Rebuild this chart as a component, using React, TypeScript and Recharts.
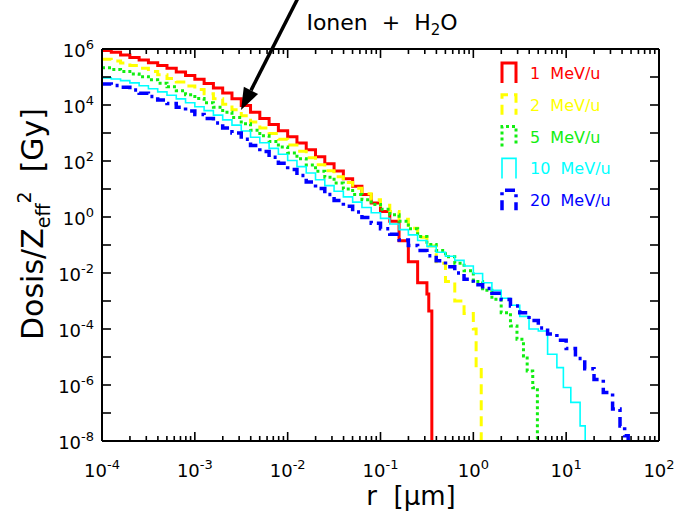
import React from 'react';
import { LineChart, Line, XAxis, YAxis } from 'recharts';

// log10 of r [µm] and log10 of dose/Zeff² [Gy] for each energy
const redLogR = [-4.0, -3.9, -3.8, -3.7, -3.6, -3.5, -3.4, -3.3, -3.2, -3.1, -3.0, -2.9, -2.8, -2.7, -2.6, -2.5, -2.4, -2.3, -2.2, -2.1, -2.0, -1.9, -1.8, -1.7, -1.6, -1.5, -1.4, -1.3, -1.2, -1.1, -1.0, -0.9, -0.8, -0.7, -0.6, -0.5, -0.48, -0.447];
const redLogDose = [5.95, 5.88, 5.79, 5.7, 5.61, 5.51, 5.41, 5.31, 5.18, 5.05, 4.92, 4.77, 4.61, 4.43, 4.22, 3.98, 3.74, 3.52, 3.3, 3.08, 2.87, 2.64, 2.4, 2.15, 1.9, 1.64, 1.37, 1.1, 0.8, 0.5, 0.2, -0.15, -0.85, -1.6, -2.35, -2.75, -3.36, -8];

const yellowLogR = [-4.0, -3.9, -3.8, -3.7, -3.6, -3.5, -3.4, -3.3, -3.2, -3.1, -3.0, -2.9, -2.8, -2.7, -2.6, -2.5, -2.4, -2.3, -2.2, -2.1, -2.0, -1.9, -1.8, -1.7, -1.6, -1.5, -1.4, -1.3, -1.2, -1.1, -1.0, -0.9, -0.8, -0.7, -0.6, -0.5, -0.4, -0.3, -0.2, -0.1, 0.0, 0.03, 0.085];
const yellowLogDose = [5.63, 5.57, 5.5, 5.41, 5.31, 5.2, 5.08, 4.95, 4.82, 4.68, 4.55, 4.4, 4.22, 4.03, 3.83, 3.62, 3.39, 3.18, 2.98, 2.78, 2.57, 2.35, 2.12, 1.87, 1.65, 1.44, 1.23, 1.03, 0.83, 0.62, 0.42, 0.2, -0.08, -0.4, -0.72, -1.04, -1.65, -2.3, -3.0, -3.45, -4.0, -5.45, -8];

const greenLogR = [-4.0, -3.9, -3.8, -3.7, -3.6, -3.5, -3.4, -3.3, -3.2, -3.1, -3.0, -2.9, -2.8, -2.7, -2.6, -2.5, -2.4, -2.3, -2.2, -2.1, -2.0, -1.9, -1.8, -1.7, -1.6, -1.5, -1.4, -1.3, -1.2, -1.1, -1.0, -0.9, -0.8, -0.7, -0.6, -0.5, -0.4, -0.3, -0.2, -0.1, 0.0, 0.1, 0.2, 0.3, 0.4, 0.47, 0.54, 0.58, 0.64, 0.69];
const greenLogDose = [5.33, 5.27, 5.2, 5.11, 5.01, 4.9, 4.78, 4.65, 4.51, 4.37, 4.23, 4.08, 3.92, 3.74, 3.55, 3.33, 3.1, 2.9, 2.7, 2.5, 2.29, 2.08, 1.86, 1.63, 1.42, 1.21, 1.0, 0.8, 0.62, 0.45, 0.28, 0.08, -0.15, -0.42, -0.7, -0.98, -1.2, -1.42, -1.65, -1.92, -2.3, -2.62, -2.94, -3.42, -3.89, -4.37, -4.96, -5.5, -6.1, -8];

const cyanLogR = [-4.0, -3.9, -3.8, -3.7, -3.6, -3.5, -3.4, -3.3, -3.2, -3.1, -3.0, -2.9, -2.8, -2.7, -2.6, -2.5, -2.4, -2.3, -2.2, -2.1, -2.0, -1.9, -1.8, -1.7, -1.6, -1.5, -1.4, -1.3, -1.2, -1.1, -1.0, -0.9, -0.8, -0.7, -0.6, -0.5, -0.4, -0.3, -0.2, -0.1, 0.0, 0.1, 0.2, 0.3, 0.4, 0.5, 0.6, 0.7, 0.8, 0.9, 0.97, 1.05, 1.15, 1.205];
const cyanLogDose = [4.97, 4.93, 4.87, 4.79, 4.69, 4.58, 4.47, 4.35, 4.22, 4.08, 3.94, 3.8, 3.64, 3.47, 3.28, 3.07, 2.85, 2.65, 2.45, 2.24, 2.02, 1.8, 1.57, 1.33, 1.12, 0.92, 0.72, 0.53, 0.34, 0.15, -0.05, -0.25, -0.45, -0.64, -0.84, -1.05, -1.26, -1.4, -1.55, -1.75, -2.02, -2.35, -2.62, -2.9, -3.15, -3.55, -4.0, -4.07, -4.9, -5.38, -6.09, -6.62, -7.46, -8];

const blueLogR = [-4.0, -3.9, -3.8, -3.7, -3.6, -3.5, -3.4, -3.3, -3.2, -3.1, -3.0, -2.9, -2.8, -2.7, -2.6, -2.5, -2.4, -2.3, -2.2, -2.1, -2.0, -1.9, -1.8, -1.7, -1.6, -1.5, -1.4, -1.3, -1.2, -1.1, -1.0, -0.9, -0.8, -0.7, -0.6, -0.5, -0.4, -0.3, -0.2, -0.1, 0.0, 0.1, 0.2, 0.3, 0.4, 0.5, 0.6, 0.7, 0.8, 0.9, 1.0, 1.1, 1.2, 1.3, 1.4, 1.5, 1.58, 1.63, 1.668];
const blueLogDose = [4.75, 4.7, 4.63, 4.54, 4.42, 4.3, 4.18, 4.05, 3.92, 3.79, 3.66, 3.52, 3.36, 3.18, 3.0, 2.78, 2.55, 2.34, 2.13, 1.92, 1.7, 1.48, 1.25, 1.02, 0.8, 0.59, 0.38, 0.18, -0.02, -0.22, -0.42, -0.62, -0.82, -1.02, -1.2, -1.38, -1.56, -1.78, -2.0, -2.22, -2.42, -2.55, -2.72, -2.95, -3.18, -3.42, -3.7, -3.96, -4.18, -4.4, -4.7, -5.05, -5.42, -5.8, -6.27, -6.86, -7.46, -7.81, -8];

const energyNumbers = ['1', '2', '5', '10', '20'];
const energyUnit = 'MeV/u';

// axis decades
const xDecades = [-4, -3, -2, -1, 0, 1, 2];
const xMinorMultiples = [2, 3, 4, 5, 6, 7, 8, 9];
const yDecades = [-8, -7, -6, -5, -4, -3, -2, -1, 0, 1, 2, 3, 4, 5, 6];

const FONT = '"DejaVu Sans", sans-serif';

const toPoints = (logR: number[], logDose: number[]) =>
  logR.map((lr, i) => ({ r: Math.pow(10, lr), dose: Math.pow(10, logDose[i]) }));

const series = [
  { key: 'e1', data: toPoints(redLogR, redLogDose), color: '#ff0000', width: 3, dash: undefined },
  { key: 'e2', data: toPoints(yellowLogR, yellowLogDose), color: '#ffff00', width: 3, dash: '10 6' },
  { key: 'e5', data: toPoints(greenLogR, greenLogDose), color: '#11ee11', width: 3, dash: '3 3' },
  { key: 'e10', data: toPoints(cyanLogR, cyanLogDose), color: '#00ffff', width: 1.6, dash: undefined },
  { key: 'e20', data: toPoints(blueLogR, blueLogDose), color: '#0000ff', width: 3.5, dash: '10 5 3 5' },
];

const xTicks: number[] = [];
xDecades.forEach((d, i) => {
  xTicks.push(Math.pow(10, d));
  if (i < xDecades.length - 1) xMinorMultiples.forEach((m) => xTicks.push(m * Math.pow(10, d)));
});
const yTicks = yDecades.map((d) => Math.pow(10, d));

const exponentOf = (v: number) => Math.round(Math.log10(v));
const isDecade = (v: number) => Math.abs(Math.log10(v) - exponentOf(v)) < 1e-6;

function PowerLabel({ x, y, exp, anchor }: { x: number; y: number; exp: number; anchor: 'middle' | 'end' }) {
  return (
    <text x={x} y={y} textAnchor={anchor} fontSize={18} fontFamily={FONT} fill="#000">
      10
      <tspan dy={-8} fontSize={13}>
        {String(exp)}
      </tspan>
    </text>
  );
}

function BottomTick(props: any) {
  const { x, y, payload } = props;
  const major = isDecade(payload.value);
  return (
    <g>
      <line x1={x} x2={x} y1={y} y2={y - (major ? 9 : 5)} stroke="#000" strokeWidth={1.6} />
      {major && <PowerLabel x={x} y={y + 36} exp={exponentOf(payload.value)} anchor="middle" />}
    </g>
  );
}

function TopTick(props: any) {
  const { x, y, payload } = props;
  const major = isDecade(payload.value);
  return <line x1={x} x2={x} y1={y} y2={y + (major ? 9 : 5)} stroke="#000" strokeWidth={1.6} />;
}

function LeftTick(props: any) {
  const { x, y, payload } = props;
  const exp = exponentOf(payload.value);
  return (
    <g>
      <line x1={x} x2={x + 9} y1={y} y2={y} stroke="#000" strokeWidth={1.6} />
      {exp % 2 === 0 && <PowerLabel x={x - 8} y={y + 8} exp={exp} anchor="end" />}
    </g>
  );
}

function RightTick(props: any) {
  const { x, y } = props;
  return <line x1={x} x2={x - 9} y1={y} y2={y} stroke="#000" strokeWidth={1.6} />;
}

// arrow pointing at the curves
const arrowFrom = { x: 298, y: -2 };
const arrowTo = { x: 241, y: 110 };

function Arrow() {
  const dx = arrowTo.x - arrowFrom.x;
  const dy = arrowTo.y - arrowFrom.y;
  const len = Math.hypot(dx, dy);
  const ux = dx / len;
  const uy = dy / len;
  const head = 22;
  const half = 8;
  const bx = arrowTo.x - head * ux;
  const by = arrowTo.y - head * uy;
  const pts = [
    [arrowTo.x, arrowTo.y],
    [bx - half * uy, by + half * ux],
    [bx + half * uy, by - half * ux],
  ]
    .map((p) => p.join(','))
    .join(' ');
  return (
    <g>
      <line x1={arrowFrom.x} y1={arrowFrom.y} x2={bx} y2={by} stroke="#000" strokeWidth={3.5} />
      <polygon points={pts} fill="#000" />
    </g>
  );
}

function LegendBox() {
  const top = 73;
  const step = 31.8;
  return (
    <g>
      {series.map((s, i) => {
        const cy = top + i * step;
        return (
          <g key={s.key}>
            <path
              d={`M502 ${cy + 10} V${cy - 10} H516 V${cy + 10}`}
              fill="none"
              stroke={s.color}
              strokeWidth={s.width}
              strokeDasharray={s.dash}
            />
            <text x={530} y={cy + 6} fontSize={16} fontFamily={FONT} fill={s.color} style={{ whiteSpace: 'pre' }}>
              {`${energyNumbers[i]}  ${energyUnit}`}
            </text>
          </g>
        );
      })}
    </g>
  );
}

export default function App() {
  return (
    <div style={{ position: 'absolute', left: 0, top: 0, width: 681, height: 515, background: '#fff' }}>
      <LineChart width={681} height={515} margin={{ top: 0, right: 0, bottom: 0, left: 0 }}>
        <XAxis
          xAxisId="bottom"
          dataKey="r"
          type="number"
          scale="log"
          domain={[1e-4, 1e2]}
          allowDataOverflow
          ticks={xTicks}
          interval={0}
          height={74}
          tickSize={0}
          tickMargin={0}
          tickLine={false}
          axisLine={{ stroke: '#000', strokeWidth: 2 }}
          tick={BottomTick}
        />
        <XAxis
          xAxisId="top"
          orientation="top"
          dataKey="r"
          type="number"
          scale="log"
          domain={[1e-4, 1e2]}
          allowDataOverflow
          ticks={xTicks}
          interval={0}
          height={49}
          tickSize={0}
          tickMargin={0}
          tickLine={false}
          axisLine={{ stroke: '#000', strokeWidth: 2 }}
          tick={TopTick}
        />
        <YAxis
          yAxisId="left"
          type="number"
          scale="log"
          domain={[1e-8, 1e6]}
          allowDataOverflow
          ticks={yTicks}
          interval={0}
          width={102}
          tickSize={0}
          tickMargin={0}
          tickLine={false}
          axisLine={{ stroke: '#000', strokeWidth: 2 }}
          tick={LeftTick}
        />
        <YAxis
          yAxisId="right"
          orientation="right"
          type="number"
          scale="log"
          domain={[1e-8, 1e6]}
          allowDataOverflow
          ticks={yTicks}
          interval={0}
          width={22}
          tickSize={0}
          tickMargin={0}
          tickLine={false}
          axisLine={{ stroke: '#000', strokeWidth: 2 }}
          tick={RightTick}
        />
        {series.map((s) => (
          <Line
            key={s.key}
            xAxisId="bottom"
            yAxisId="left"
            data={s.data}
            dataKey="dose"
            type="stepAfter"
            stroke={s.color}
            strokeWidth={s.width}
            strokeDasharray={s.dash}
            dot={false}
            activeDot={false}
            isAnimationActive={false}
          />
        ))}
      </LineChart>
      <svg
        width={681}
        height={515}
        style={{ position: 'absolute', left: 0, top: 0, pointerEvents: 'none' }}
      >
        <text x={382} y={30} textAnchor="middle" fontSize={22} fontFamily={FONT} fill="#000" style={{ whiteSpace: 'pre' }}>
          {'Ionen  +  H'}
          <tspan dy={5} fontSize={15}>2</tspan>
          <tspan dy={-5}>O</tspan>
        </text>
        <Arrow />
        <LegendBox />
        <text x={411} y={505} textAnchor="middle" fontSize={26} fontFamily={FONT} fill="#000" style={{ whiteSpace: 'pre' }}>
          {'r  [µm]'}
        </text>
        <text
          transform="rotate(-90)"
          x={-224}
          y={43}
          textAnchor="middle"
          fontSize={30}
          fontFamily={FONT}
          fill="#000"
          style={{ whiteSpace: 'pre' }}
        >
          {'Dosis/Z'}
          <tspan dy={7} fontSize={19}>eff</tspan>
          <tspan dy={-19} fontSize={19}>2</tspan>
          <tspan dy={12}>{'  [Gy]'}</tspan>
        </text>
      </svg>
    </div>
  );
}
